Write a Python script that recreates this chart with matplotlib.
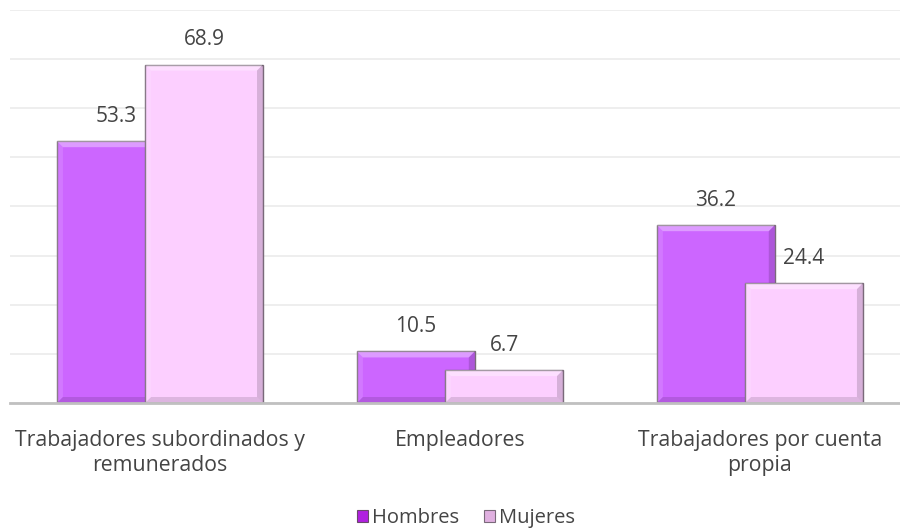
import matplotlib
matplotlib.use("Agg")
import matplotlib.pyplot as plt
from matplotlib.patches import Polygon, Rectangle
import numpy as np

categories = ["Trabajadores subordinados y\nremunerados", "Empleadores", "Trabajadores por cuenta\npropia"]
hombres = [53.3, 10.5, 36.2]
mujeres = [68.9, 6.7, 24.4]
series_names = ["Hombres", "Mujeres"]
colors = ["#CC66FF", "#FCCFFF"]
legend_colors = ["#B020E0", "#E0B0E0"]

plt.rcParams['font.family'] = ['Open Sans', 'DejaVu Sans']
text_color = "#444444"

fig = plt.figure(figsize=(9, 5.29), dpi=100)
ax = fig.add_axes([10/900, 1 - 403/529, 890/900, 393/529])

x = np.arange(len(categories))
w = 0.393
off = 0.147

def bevel(ax, bar):
    x0, y0 = bar.get_x(), bar.get_y()
    bw, bh = bar.get_width(), bar.get_height()
    dx = 6/300
    dy = 6/4.9
    dy = min(dy, bh/3)
    x1, y1 = x0 + bw, y0 + bh
    z = bar.get_zorder() + 0.1
    ax.add_patch(Polygon([[x0, y1], [x1, y1], [x1-dx, y1-dy], [x0+dx, y1-dy]],
                         closed=True, facecolor="white", alpha=0.35, lw=0, zorder=z))
    ax.add_patch(Polygon([[x0, y0], [x0, y1], [x0+dx, y1-dy], [x0+dx, y0+dy]],
                         closed=True, facecolor="white", alpha=0.12, lw=0, zorder=z))
    ax.add_patch(Polygon([[x1, y0], [x1, y1], [x1-dx, y1-dy], [x1-dx, y0+dy]],
                         closed=True, facecolor="black", alpha=0.15, lw=0, zorder=z))
    ax.add_patch(Polygon([[x0, y0], [x1, y0], [x1-dx, y0+dy], [x0+dx, y0+dy]],
                         closed=True, facecolor="black", alpha=0.12, lw=0, zorder=z))

for i, (vals, col) in enumerate([(hombres, colors[0]), (mujeres, colors[1])]):
    pos = x - off if i == 0 else x + off
    bars = ax.bar(pos, vals, width=w, color=col, edgecolor="#7a6a7a", linewidth=1.0, zorder=3 + i)
    for b, v in zip(bars, vals):
        bevel(ax, b)
        ax.annotate(f"{v:.1f}", (b.get_x() + b.get_width()/2, v), xytext=(0, 18),
                    textcoords="offset points", ha="center", va="center",
                    fontsize=15, color=text_color, zorder=10)

ax.set_xlim(-0.5, 2.467)
ax.set_ylim(0, 80)
ax.set_yticks(np.arange(0, 81, 10))
ax.yaxis.grid(True, color="#ebebeb", linewidth=1.2, zorder=0)
ax.set_axisbelow(True)
ax.tick_params(axis="y", left=False, labelleft=False)
ax.set_xticks(x)
ax.set_xticklabels(categories, fontsize=15.3, color=text_color, linespacing=1.25)
ax.tick_params(axis="x", length=0, pad=19.5)
for s in ["top", "right", "left"]:
    ax.spines[s].set_visible(False)
ax.spines["bottom"].set_color("#c0c0c0")
ax.spines["bottom"].set_linewidth(2)
ax.spines["bottom"].set_zorder(6)

handles = [Rectangle((0, 0), 1, 1, facecolor=legend_colors[0], edgecolor="#6a4a6a", lw=0.8),
           Rectangle((0, 0), 1, 1, facecolor=legend_colors[1], edgecolor="#7a6a7a", lw=0.8)]
fig.legend(handles, series_names, loc="center", bbox_to_anchor=(466/900, 1 - 518/529), ncol=2,
           frameon=False, fontsize=14.5, handlelength=0.55, handleheight=0.55, handletextpad=0.2,
           columnspacing=1.25, labelcolor=text_color)

fig.savefig("out.png", dpi=100)
